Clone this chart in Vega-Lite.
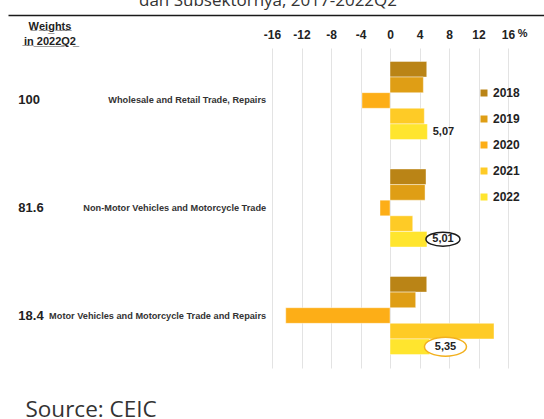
{
  "$schema": "https://vega.github.io/schema/vega-lite/v6.json",
  "width": 536,
  "height": 320,
  "autosize": {"type": "none"},
  "padding": {"left": 8, "top": 48, "right": 0, "bottom": 51},
  "background": "white",
  "config": {
    "view": {"stroke": null},
    "locale": {"number": {"decimal": ",", "thousands": ".", "grouping": [3], "currency": ["", ""], "minus": "-"}},
    "font": "Liberation Sans"
  },
  "title": {"text": "dan Subsektornya, 2017-2022Q2", "font": "Open Sans", "fontSize": 17, "fontWeight": "normal", "color": "#333333", "anchor": "middle", "frame": "group", "dx": -8, "dy": 8, "offset": 0, "baseline": "alphabetic"},
  "datasets": {
    "bars": [
      {"sector": "Wholesale and Retail Trade, Repairs", "weight": "100", "year": "2018", "value": 4.98},
      {"sector": "Wholesale and Retail Trade, Repairs", "weight": "100", "year": "2019", "value": 4.52},
      {"sector": "Wholesale and Retail Trade, Repairs", "weight": "100", "year": "2020", "value": -3.8},
      {"sector": "Wholesale and Retail Trade, Repairs", "weight": "100", "year": "2021", "value": 4.65},
      {"sector": "Wholesale and Retail Trade, Repairs", "weight": "100", "year": "2022", "value": 5.07},
      {"sector": "Non-Motor Vehicles and Motorcycle Trade", "weight": "81.6", "year": "2018", "value": 4.88},
      {"sector": "Non-Motor Vehicles and Motorcycle Trade", "weight": "81.6", "year": "2019", "value": 4.75},
      {"sector": "Non-Motor Vehicles and Motorcycle Trade", "weight": "81.6", "year": "2020", "value": -1.36},
      {"sector": "Non-Motor Vehicles and Motorcycle Trade", "weight": "81.6", "year": "2021", "value": 3.08},
      {"sector": "Non-Motor Vehicles and Motorcycle Trade", "weight": "81.6", "year": "2022", "value": 5.01},
      {"sector": "Motor Vehicles and Motorcycle Trade and Repairs", "weight": "18.4", "year": "2018", "value": 4.98},
      {"sector": "Motor Vehicles and Motorcycle Trade and Repairs", "weight": "18.4", "year": "2019", "value": 3.48},
      {"sector": "Motor Vehicles and Motorcycle Trade and Repairs", "weight": "18.4", "year": "2020", "value": -14.14},
      {"sector": "Motor Vehicles and Motorcycle Trade and Repairs", "weight": "18.4", "year": "2021", "value": 14.1},
      {"sector": "Motor Vehicles and Motorcycle Trade and Repairs", "weight": "18.4", "year": "2022", "value": 5.35}
    ]
  },
  "data": {"name": "bars"},
  "resolve": {"axis": {"x": "independent", "y": "independent"}},
  "layer": [
    {
      "mark": {"type": "bar", "stroke": "#ffffff", "strokeWidth": 0.6, "strokeOpacity": 0.7},
      "encoding": {
        "y": {"field": "sector", "type": "nominal", "sort": null,
          "scale": {"paddingInner": 0.274, "paddingOuter": 0.125},
          "axis": {"orient": "left", "title": ["W̲e̲i̲g̲h̲t̲s̲", "i̲n̲ ̲2̲0̲2̲2̲Q̲2̲"], "labels": false, "ticks": false, "domain": false, "grid": false,
            "titleAngle": 0, "titleAlign": "center", "titleBaseline": "alphabetic", "titleX": 41.5, "titleY": -19,
            "titleFontSize": 11, "titleFontWeight": "bold", "titleColor": "#222222", "titleLineHeight": 15, "titleFont": "Liberation Sans"}},
        "yOffset": {"field": "year", "type": "nominal", "scale": {"paddingInner": 0, "paddingOuter": 0}},
        "x": {"field": "value", "type": "quantitative",
          "scale": {"domain": [-51.8, 20.88], "nice": false, "zero": false},
          "axis": {"orient": "top", "offset": 33, "values": [-16, -12, -8, -4, 0, 4, 8, 12, 16, 17.9],
            "labelExpr": "datum.value > 17 ? '%' : datum.label", "title": null,
            "domain": true, "domainColor": "#1a1a1a", "domainWidth": 1.5, "ticks": false, "tickSize": 0,
            "labelPadding": -23,
            "labelBaseline": {"condition": {"test": "datum.value > 17", "value": "bottom"}, "value": "alphabetic"},
            "labelFontSize": {"condition": {"test": "datum.value > 17", "value": 11}, "value": 12},
            "labelFontWeight": "bold", "labelColor": "#222222", "labelFont": "Liberation Sans",
            "grid": true, "gridColor": "#e3e3e3",
            "gridOpacity": {"condition": {"test": "datum.value > 17", "value": 0}, "value": 1},
            "gridWidth": 1, "labelFlush": false, "labelOverlap": false}},
        "x2": {"datum": 0},
        "color": {"field": "year", "type": "nominal",
          "scale": {"domain": ["2018", "2019", "2020", "2021", "2022"], "range": ["#BA8416", "#DF9E15", "#FDAE17", "#FECB26", "#FFE52E"]},
          "legend": {"title": null, "orient": "none", "legendX": 470, "legendY": 39, "symbolType": "square", "symbolSize": 49,
            "symbolStrokeWidth": 0, "labelFontSize": 12, "labelFontWeight": "bold", "labelColor": "#222222", "labelFont": "Liberation Sans",
            "rowPadding": 14, "labelOffset": 3}}
      }
    },
    {
      "transform": [{"filter": "datum.year == '2018'"}],
      "mark": {"type": "text", "align": "right", "baseline": "middle", "fontSize": 9.2, "fontWeight": "bold", "color": "#333333", "font": "Liberation Sans"},
      "encoding": {
        "y": {"field": "sector", "type": "nominal", "sort": null, "axis": null},
        "x": {"datum": -16.8, "type": "quantitative", "axis": null},
        "text": {"field": "sector", "type": "nominal"}
      }
    },
    {
      "transform": [{"filter": "datum.year == '2018'"}],
      "mark": {"type": "text", "align": "left", "baseline": "middle", "fontSize": 13, "fontWeight": "bold", "color": "#222222", "font": "Liberation Sans"},
      "encoding": {
        "y": {"field": "sector", "type": "nominal", "sort": null, "axis": null},
        "x": {"datum": -50.4, "type": "quantitative", "axis": null},
        "text": {"field": "weight", "type": "nominal"}
      }
    },
    {
      "transform": [{"filter": "datum.year == '2022' && datum.weight == '81.6'"}],
      "mark": {"type": "point", "shape": "M-1,0A1,0.41,0,1,1,1,0A1,0.41,0,1,1,-1,0Z", "size": 1156, "filled": true,
        "fill": "#ffffff", "stroke": "#1a1a1a", "strokeWidth": 1.5, "opacity": 1, "fillOpacity": 1, "strokeOpacity": 1, "xOffset": 16},
      "encoding": {
        "y": {"field": "sector", "type": "nominal", "sort": null, "axis": null},
        "yOffset": {"field": "year", "type": "nominal"},
        "x": {"field": "value", "type": "quantitative", "axis": null}
      }
    },
    {
      "transform": [{"filter": "datum.year == '2022' && datum.weight == '18.4'"}],
      "mark": {"type": "point", "shape": "M-1,0A1,0.45,0,1,1,1,0A1,0.45,0,1,1,-1,0Z", "size": 1764, "filled": true,
        "fill": "#ffffff", "stroke": "#F2B01E", "strokeWidth": 1.5, "opacity": 1, "fillOpacity": 1, "strokeOpacity": 1, "xOffset": 16},
      "encoding": {
        "y": {"field": "sector", "type": "nominal", "sort": null, "axis": null},
        "yOffset": {"field": "year", "type": "nominal"},
        "x": {"field": "value", "type": "quantitative", "axis": null}
      }
    },
    {
      "transform": [{"filter": "datum.year == '2022'"}],
      "mark": {"type": "text", "align": "center", "baseline": "middle", "dx": 16, "fontSize": 11, "fontWeight": "bold", "color": "#222222", "font": "Liberation Sans"},
      "encoding": {
        "y": {"field": "sector", "type": "nominal", "sort": null, "axis": null},
        "yOffset": {"field": "year", "type": "nominal"},
        "x": {"field": "value", "type": "quantitative",
          "axis": {"orient": "bottom", "title": "Source: CEIC", "labels": false, "ticks": false, "domain": false, "grid": false,
            "titleFont": "Open Sans", "titleFontSize": 22.5, "titleFontWeight": "normal", "titleColor": "#333333",
            "titleAnchor": "start", "titleAlign": "left", "titleX": 17, "titleY": 48.5, "titleBaseline": "alphabetic"}},
        "text": {"field": "value", "type": "quantitative", "format": ".2f"}
      }
    }
  ]
}
